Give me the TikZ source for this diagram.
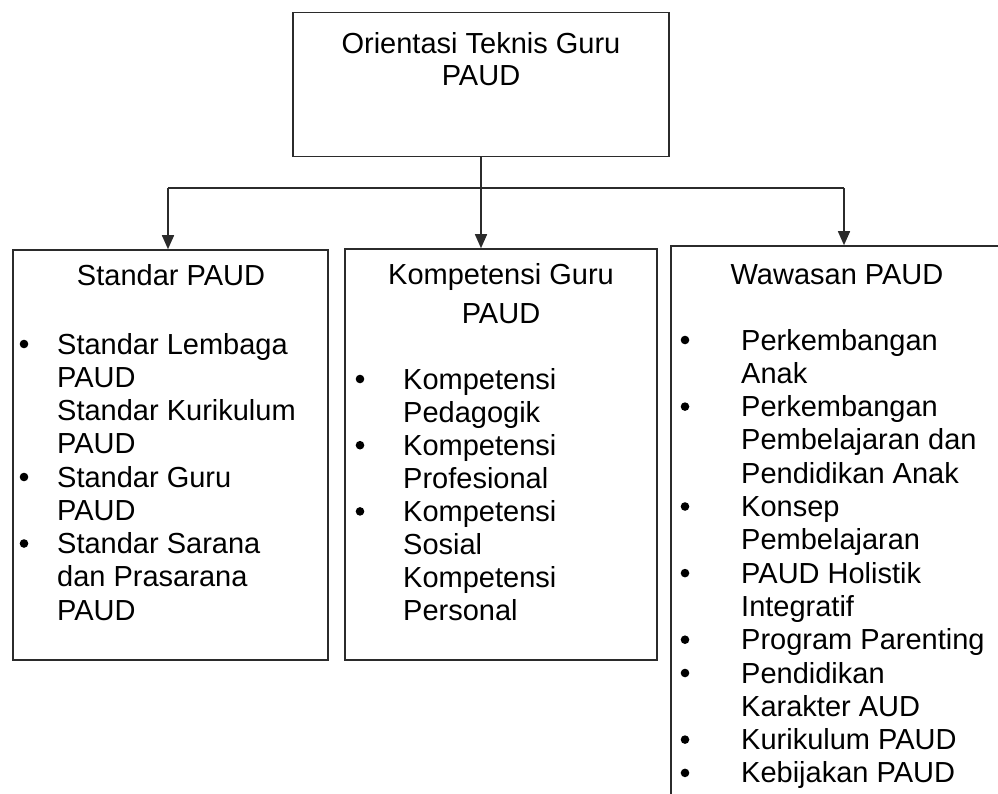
\documentclass[tikz,border=0pt]{standalone}
\usepackage{fontspec}
\setmainfont{Liberation Sans}
\usetikzlibrary{arrows.meta}
\definecolor{inkc}{HTML}{2B2B2B}
\tikzset{
  ln/.style={inkc,line width=1.6pt},
  ar/.style={-{Triangle[length=14pt,width=12pt]},inkc,line width=1.6pt},
  box/.style={draw=inkc,line width=1.6pt,inner sep=0pt},
  txt/.style={inner sep=0pt,font=\fontsize{29}{33.3}\selectfont}
}
\newcommand{\blist}[1]{\begin{tabular}[t]{@{}l@{}}#1\end{tabular}}
\newcommand{\clist}[1]{\begin{tabular}[t]{@{}c@{}}#1\end{tabular}}
\begin{document}
\begin{tikzpicture}[x=1pt,y=-1pt]
\useasboundingbox (0,0) rectangle (998,793);
% boxes
\node[box,minimum width=376pt,minimum height=144pt] (top) at (481,84.5) {};
\node[box,minimum width=315pt,minimum height=410pt] (std) at (170.5,455) {};
\node[box,minimum width=312pt,minimum height=411pt] (komp) at (501,454.5) {};
\node[box,minimum width=344pt,minimum height=564pt] (waw) at (843,528) {};
% titles
\node[txt,anchor=base,font=\fontsize{29}{32}\selectfont] (toptxt) at (481,53) {\clist{Orientasi Teknis Guru\\PAUD}};
\node[txt,anchor=base] (stdttl) at (171,285) {Standar PAUD};
\node[txt,anchor=base,font=\fontsize{29}{39}\selectfont] (kompttl) at (501,284) {\clist{Kompetensi Guru\\PAUD}};
\node[txt,anchor=base] (wawttl) at (837,284) {Wawasan PAUD};
% lists
\node[txt,anchor=base west,font=\fontsize{29}{33.25}\selectfont] (stdlst) at (57,354)
  {\blist{Standar Lembaga\\PAUD\\Standar Kurikulum\\PAUD\\Standar Guru\\PAUD\\Standar Sarana\\dan Prasarana\\PAUD}};
\node[txt,anchor=base west,font=\fontsize{29}{33.1}\selectfont] (komplst) at (403,389)
  {\blist{Kompetensi\\Pedagogik\\Kompetensi\\Profesional\\Kompetensi\\Sosial\\Kompetensi\\Personal}};
\node[txt,anchor=base west] (wawlst) at (741,350)
  {\blist{Perkembangan\\Anak\\Perkembangan\\Pembelajaran dan\\Pendidikan Anak\\Konsep\\Pembelajaran\\PAUD Holistik\\Integratif\\Program Parenting\\Pendidikan\\Karakter AUD\\Kurikulum PAUD\\Kebijakan PAUD}};
% bullets
\foreach \r in {0,4,6} \fill (24,344+33.25*\r) circle (4.3pt);
\foreach \r in {0,2,4} \fill (360,379+33.1*\r) circle (4.3pt);
\foreach \r in {0,2,5,7,9,10,12,13} \fill (685,340+33.3*\r) circle (4.3pt);
% connectors
\coordinate (hl) at (168,188);
\coordinate (hr) at (844,188);
\draw[ln] (hl) -- (hr);
\draw[ar] (top.south) -- (top.south |- komp.north);
\draw[ar] (hl) -- (hl |- std.north);
\draw[ar] (hr) -- (hr |- waw.north);
\end{tikzpicture}
\end{document}
